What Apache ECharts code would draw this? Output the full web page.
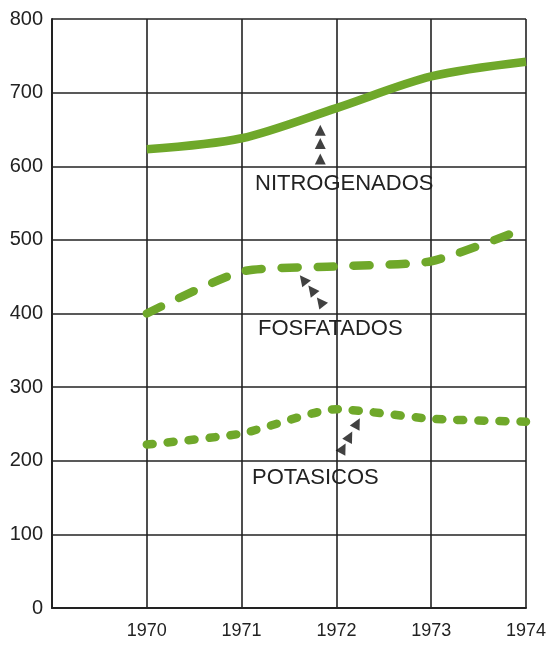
<!DOCTYPE html>
<html><head><meta charset="utf-8">
<script src="https://cdn.jsdelivr.net/npm/echarts@6/dist/echarts.min.js"></script>
<style>html,body{margin:0;padding:0;background:#fff}#c{width:550px;height:650px}</style>
</head><body><div id="c"></div>
<script>
const years = [1970, 1971, 1972, 1973, 1974];
const nitrogenados = [623, 638, 679, 722, 742];
const fosfatados = [400, 457, 464, 471, 516];
const potasicos = [222, 237, 270, 257, 253];
const yTicks = [0, 100, 200, 300, 400, 500, 600, 700, 800];
const seriesNames = ['NITROGENADOS', 'FOSFATADOS', 'POTASICOS'];
// annotation arrows (data coordinates) and their rotation
const arrowsNitro = [[1971.83, 649], [1971.83, 631], [1971.83, 610]];
const arrowsFosf = [[1971.65, 446], [1971.74, 432], [1971.83, 416]];
const arrowsPotas = [[1972.22, 251], [1972.14, 233], [1972.07, 217]];

const green = '#6fa82a';
const font = "'Liberation Sans', Arial, sans-serif";
const labelFont = "22px 'Liberation Sans', Arial, sans-serif";
const chart = echarts.init(document.getElementById('c'));
const pair = (arr) => years.map((y, i) => [y, arr[i]]);
const arrowSeries = (pts, rot) => ({
  type: 'scatter', data: pts, symbol: 'triangle', symbolSize: [11, 11],
  symbolRotate: rot, itemStyle: { color: '#111' }, silent: true, z: 5
});
chart.setOption({
  animation: false,
  grid: { left: 52, right: 24, top: 19, bottom: 42 },
  xAxis: {
    type: 'value', min: 1969, max: 1974, interval: 1,
    axisLine: { lineStyle: { color: '#222', width: 2 } },
    axisTick: { show: false },
    splitLine: { lineStyle: { color: '#222', width: 1.6 } },
    axisLabel: { formatter: v => (v === 1969 ? '' : String(v)), color: '#222',
      fontFamily: font, fontSize: 18, margin: 14 }
  },
  yAxis: {
    type: 'value', min: 0, max: 800, interval: 100,
    axisLine: { show: true, lineStyle: { color: '#222', width: 2 } },
    axisTick: { show: false },
    splitLine: { lineStyle: { color: '#222', width: 1.6 } },
    axisLabel: { formatter: v => (yTicks.includes(v) ? String(v) : ''), color: '#222',
      fontFamily: font, fontSize: 20, margin: 9 }
  },
  series: [
    { name: seriesNames[0], type: 'line', data: pair(nitrogenados), smooth: 0.3, symbol: 'none',
      lineStyle: { color: green, width: 8.5 } },
    { name: seriesNames[1], type: 'line', data: pair(fosfatados), smooth: 0.2, symbol: 'none',
      lineStyle: { color: green, width: 8.5, type: [16, 20], cap: 'round' } },
    { name: seriesNames[2], type: 'line', data: pair(potasicos), smooth: 0.2, symbol: 'none',
      lineStyle: { color: green, width: 8.5, type: [6, 15], cap: 'round' } },
    arrowSeries(arrowsNitro, 0),
    arrowSeries(arrowsFosf, 38),
    arrowSeries(arrowsPotas, -28)
  ],
  graphic: [
    { type: 'text', left: 255, top: 173, style: { text: seriesNames[0], font: labelFont, fill: '#222' } },
    { type: 'text', left: 258, top: 318, style: { text: seriesNames[1], font: labelFont, fill: '#222' } },
    { type: 'text', left: 252, top: 467, style: { text: seriesNames[2], font: labelFont, fill: '#222' } }
  ]
});
</script></body></html>
